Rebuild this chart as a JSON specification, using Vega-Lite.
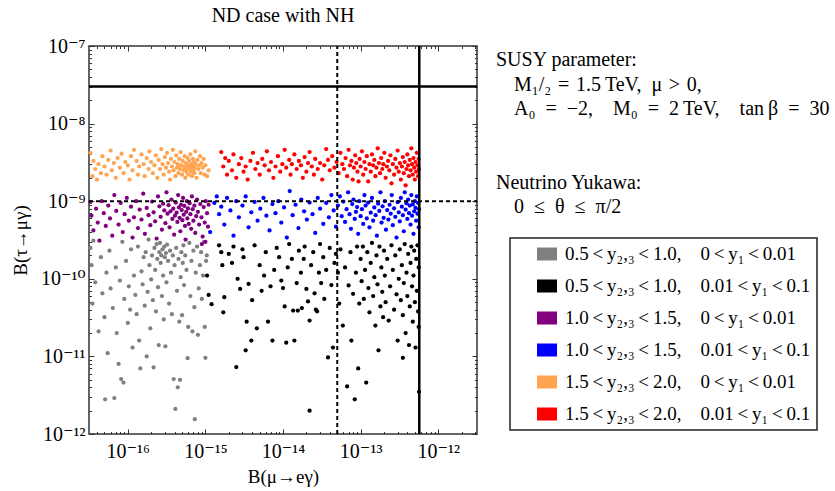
{
"$schema":"https://vega.github.io/schema/vega-lite/v6.json",
"padding":{"left":10,"top":5,"right":0,"bottom":0},
"background":"white",
"spacing":17,
"config":{
"font":"Liberation Serif",
"view":{"stroke":null},
"axis":{"labelFont":"Liberation Serif, DejaVu Serif","labelFontSize":20,"labelColor":"#000","titleFont":"Liberation Serif","titleFontSize":19,"titleFontWeight":"normal","titleColor":"#000","tickColor":"#333","tickWidth":1,"grid":false,"domain":false},
"title":{"font":"Liberation Serif","fontSize":20,"fontWeight":"normal","color":"#000"},
"legend":{"orient":"none","legendX":421,"legendY":192,"titlePadding":0,"symbolType":"M-1,-0.65H1V0.65H-1Z","symbolSize":400,"symbolStrokeWidth":0,"symbolOpacity":1,"labelFont":"Liberation Serif","labelFontSize":19,"labelColor":"#000","labelOffset":8,"labelLimit":0,"strokeColor":"#222","strokeWidth":1.5,"fillColor":"#fff","padding":6,"symbolOffset":21,"rowPadding":12}
},
"hconcat":[
{
"width":388,"height":388,
"view":{"stroke":"#333","strokeWidth":1.5},
"title":{"text":"ND case with NH","anchor":"middle","offset":10},
"resolve":{"axis":{"x":"independent","y":"independent"}},
"layer":[
{
"data":{"values":[
{"x":3.3e-17,"y":2.5e-10,"g":"a"},{"x":3.4e-17,"y":1.5e-10,"g":"a"},{"x":3.5e-17,"y":4.8e-11,"g":"a"},{"x":3.6e-17,"y":3.1e-10,"g":"a"},{"x":3.8e-17,"y":9.0e-11,"g":"a"},{"x":4.2e-17,"y":2.1e-11,"g":"a"},{"x":4.5e-17,"y":1.9e-10,"g":"a"},{"x":4.7e-17,"y":6.5e-11,"g":"a"},{"x":5.0e-17,"y":3.2e-11,"g":"a"},{"x":5.1e-17,"y":2.8e-12,"g":"a"},{"x":5.3e-17,"y":1.2e-10,"g":"a"},{"x":5.5e-17,"y":1.1e-11,"g":"a"},{"x":5.8e-17,"y":2.3e-10,"g":"a"},{"x":6.0e-17,"y":7.5e-11,"g":"a"},{"x":6.4e-17,"y":4.2e-11,"g":"a"},{"x":6.7e-17,"y":2.9e-12,"g":"a"},{"x":7.0e-17,"y":1.4e-10,"g":"a"},{"x":7.2e-17,"y":2.0e-11,"g":"a"},{"x":7.6e-17,"y":8.0e-12,"g":"a"},{"x":7.9e-17,"y":9.5e-11,"g":"a"},{"x":8.2e-17,"y":5.1e-12,"g":"a"},{"x":8.5e-17,"y":3.0e-10,"g":"a"},{"x":8.8e-17,"y":4.6e-12,"g":"a"},{"x":9.0e-17,"y":5.5e-11,"g":"a"},{"x":9.5e-17,"y":1.7e-10,"g":"a"},{"x":1.0e-16,"y":2.7e-11,"g":"a"},{"x":1.03e-16,"y":8.0e-11,"g":"a"},{"x":1.07e-16,"y":4.0e-11,"g":"a"},{"x":1.1e-16,"y":2.4e-10,"g":"a"},{"x":1.15e-16,"y":1.3e-11,"g":"a"},{"x":1.2e-16,"y":1.1e-10,"g":"a"},{"x":1.25e-16,"y":6.2e-11,"g":"a"},{"x":1.3e-16,"y":3.5e-11,"g":"a"},{"x":1.35e-16,"y":2.6e-10,"g":"a"},{"x":1.4e-16,"y":1.6e-11,"g":"a"},{"x":1.45e-16,"y":7.0e-12,"g":"a"},{"x":1.5e-16,"y":1.25e-10,"g":"a"},{"x":1.55e-16,"y":8.5e-11,"g":"a"},{"x":1.6e-16,"y":1.9e-10,"g":"a"},{"x":1.65e-16,"y":4.5e-11,"g":"a"},{"x":1.7e-16,"y":2.2e-10,"g":"a"},{"x":1.75e-16,"y":1.0e-11,"g":"a"},{"x":1.8e-16,"y":6.8e-11,"g":"a"},{"x":1.85e-16,"y":3.2e-10,"g":"a"},{"x":1.9e-16,"y":1.5e-10,"g":"a"},{"x":1.95e-16,"y":2.3e-11,"g":"a"},{"x":2.0e-16,"y":9.8e-11,"g":"a"},{"x":2.05e-16,"y":2.0e-10,"g":"a"},{"x":2.1e-16,"y":5.3e-11,"g":"a"},{"x":2.15e-16,"y":7.2e-12,"g":"a"},{"x":2.2e-16,"y":2.5e-10,"g":"a"},{"x":2.25e-16,"y":1.3e-10,"g":"a"},{"x":2.3e-16,"y":3.8e-11,"g":"a"},{"x":2.35e-16,"y":2.8e-10,"g":"a"},{"x":2.4e-16,"y":1.8e-10,"g":"a"},{"x":2.45e-16,"y":7.8e-11,"g":"a"},{"x":2.5e-16,"y":1.4e-11,"g":"a"},{"x":2.55e-16,"y":2.2e-10,"g":"a"},{"x":2.6e-16,"y":2.9e-10,"g":"a"},{"x":2.65e-16,"y":1.6e-10,"g":"a"},{"x":2.7e-16,"y":2.0e-10,"g":"a"},{"x":2.75e-16,"y":6.0e-11,"g":"a"},{"x":2.8e-16,"y":2.4e-10,"g":"a"},{"x":2.85e-16,"y":1.1e-10,"g":"a"},{"x":2.9e-16,"y":3.0e-11,"g":"a"},{"x":2.95e-16,"y":2.6e-10,"g":"a"},{"x":3.0e-16,"y":1.9e-10,"g":"a"},{"x":3.05e-16,"y":1.35e-11,"g":"a"},{"x":3.1e-16,"y":2.15e-10,"g":"a"},{"x":3.15e-16,"y":9.0e-11,"g":"a"},{"x":3.2e-16,"y":2.75e-10,"g":"a"},{"x":3.3e-16,"y":1.7e-10,"g":"a"},{"x":3.4e-16,"y":4.8e-11,"g":"a"},{"x":3.5e-16,"y":2.3e-10,"g":"a"},{"x":3.6e-16,"y":1.2e-10,"g":"a"},{"x":3.7e-16,"y":3.5e-11,"g":"a"},{"x":3.8e-16,"y":2.0e-10,"g":"a"},{"x":3.9e-16,"y":5.1e-12,"g":"a"},{"x":4.0e-16,"y":1.5e-10,"g":"a"},{"x":4.1e-16,"y":2.1e-12,"g":"a"},{"x":4.2e-16,"y":2.5e-10,"g":"a"},{"x":4.3e-16,"y":7.0e-11,"g":"a"},{"x":4.4e-16,"y":4.0e-12,"g":"a"},{"x":4.5e-16,"y":1.8e-10,"g":"a"},{"x":4.6e-16,"y":2.8e-11,"g":"a"},{"x":4.7e-16,"y":5.0e-12,"g":"a"},{"x":4.8e-16,"y":1.05e-10,"g":"a"},{"x":4.9e-16,"y":2.2e-10,"g":"a"},{"x":5.0e-16,"y":3.4e-11,"g":"a"},{"x":5.1e-16,"y":1.6e-10,"g":"a"},{"x":5.2e-16,"y":2.7e-10,"g":"a"},{"x":5.3e-16,"y":8.3e-11,"g":"a"},{"x":5.5e-16,"y":2.0e-10,"g":"a"},{"x":5.7e-16,"y":1.3e-10,"g":"a"},{"x":5.9e-16,"y":9.5e-12,"g":"a"},{"x":6.0e-16,"y":2.4e-11,"g":"a"},{"x":6.2e-16,"y":2.9e-10,"g":"a"},{"x":6.4e-16,"y":6.0e-11,"g":"a"},{"x":6.6e-16,"y":1.7e-10,"g":"a"},{"x":6.8e-16,"y":2.1e-11,"g":"a"},{"x":7.0e-16,"y":2.3e-10,"g":"a"},{"x":7.2e-16,"y":4.3e-11,"g":"a"},{"x":7.3e-16,"y":1.55e-12,"g":"a"},{"x":7.5e-16,"y":1.2e-10,"g":"a"},{"x":7.8e-16,"y":2.6e-10,"g":"a"},{"x":8.0e-16,"y":1.9e-11,"g":"a"},{"x":8.2e-16,"y":7.5e-11,"g":"a"},{"x":8.5e-16,"y":1.5e-10,"g":"a"},{"x":8.8e-16,"y":2.2e-10,"g":"a"},{"x":9.0e-16,"y":5.5e-11,"g":"a"},{"x":9.3e-16,"y":1.1e-10,"g":"a"},{"x":9.6e-16,"y":3.0e-10,"g":"a"},{"x":9.8e-16,"y":2.4e-11,"g":"a"},{"x":1.0e-15,"y":9.6e-12,"g":"a"},{"x":1.02e-15,"y":1.7e-10,"g":"a"},{"x":1.04e-15,"y":2.0e-10,"g":"a"},
{"x":1.05e-15,"y":1.1e-10,"g":"b"},{"x":1.1e-15,"y":6.2e-11,"g":"b"},{"x":1.2e-15,"y":4.7e-11,"g":"b"},{"x":1.5e-15,"y":2.7e-10,"g":"b"},{"x":1.6e-15,"y":2.2e-10,"g":"b"},{"x":1.65e-15,"y":1.5e-10,"g":"b"},{"x":1.7e-15,"y":3.7e-11,"g":"b"},{"x":1.75e-15,"y":5.8e-11,"g":"b"},{"x":2.0e-15,"y":2.1e-10,"g":"b"},{"x":2.2e-15,"y":1.6e-10,"g":"b"},{"x":2.3e-15,"y":2.6e-10,"g":"b"},{"x":2.5e-15,"y":7.3e-12,"g":"b"},{"x":2.6e-15,"y":1.0e-10,"g":"b"},{"x":2.8e-15,"y":7.4e-11,"g":"b"},{"x":3.0e-15,"y":2.4e-10,"g":"b"},{"x":3.1e-15,"y":1.9e-10,"g":"b"},{"x":3.3e-15,"y":1.2e-11,"g":"b"},{"x":3.4e-15,"y":2.8e-11,"g":"b"},{"x":3.6e-15,"y":8.6e-11,"g":"b"},{"x":3.9e-15,"y":1.6e-11,"g":"b"},{"x":4.0e-15,"y":5.3e-11,"g":"b"},{"x":4.3e-15,"y":2.7e-10,"g":"b"},{"x":4.6e-15,"y":2.3e-11,"g":"b"},{"x":5.0e-15,"y":1.5e-10,"g":"b"},{"x":5.3e-15,"y":7.0e-11,"g":"b"},{"x":5.7e-15,"y":1.1e-10,"g":"b"},{"x":6.0e-15,"y":2.2e-10,"g":"b"},{"x":6.4e-15,"y":2.8e-11,"g":"b"},{"x":6.9e-15,"y":8.0e-11,"g":"b"},{"x":7.3e-15,"y":1.6e-11,"g":"b"},{"x":7.7e-15,"y":1.3e-10,"g":"b"},{"x":8.3e-15,"y":2.5e-10,"g":"b"},{"x":8.9e-15,"y":1.9e-10,"g":"b"},{"x":9.5e-15,"y":9.5e-11,"g":"b"},{"x":1.0e-14,"y":7.6e-11,"g":"b"},{"x":1.05e-14,"y":4.4e-11,"g":"b"},{"x":1.1e-14,"y":1.5e-11,"g":"b"},{"x":1.15e-14,"y":1.4e-10,"g":"b"},{"x":1.2e-14,"y":2.8e-10,"g":"b"},{"x":1.3e-14,"y":1.8e-10,"g":"b"},{"x":1.35e-14,"y":3.9e-11,"g":"b"},{"x":1.4e-14,"y":1.6e-11,"g":"b"},{"x":1.5e-14,"y":8.8e-11,"g":"b"},{"x":1.55e-14,"y":3.9e-11,"g":"b"},{"x":1.6e-14,"y":2.3e-10,"g":"b"},{"x":1.7e-14,"y":1.2e-10,"g":"b"},{"x":1.75e-14,"y":4.2e-11,"g":"b"},{"x":1.85e-14,"y":1.8e-10,"g":"b"},{"x":1.9e-14,"y":2.6e-10,"g":"b"},{"x":2.0e-14,"y":7.4e-11,"g":"b"},{"x":2.1e-14,"y":5.1e-11,"g":"b"},{"x":2.2e-14,"y":2.9e-11,"g":"b"},{"x":2.2e-14,"y":2.0e-12,"g":"b"},{"x":2.3e-14,"y":1.5e-10,"g":"b"},{"x":2.45e-14,"y":2.2e-10,"g":"b"},{"x":2.55e-14,"y":6.5e-11,"g":"b"},{"x":2.65e-14,"y":4.0e-11,"g":"b"},{"x":2.75e-14,"y":3.8e-11,"g":"b"},{"x":2.9e-14,"y":1.2e-10,"g":"b"},{"x":3.0e-14,"y":2.8e-10,"g":"b"},{"x":3.1e-14,"y":8.8e-11,"g":"b"},{"x":3.3e-14,"y":1.9e-10,"g":"b"},{"x":3.4e-14,"y":5.5e-11,"g":"b"},{"x":3.6e-14,"y":1.3e-10,"g":"b"},{"x":3.8e-14,"y":9.7e-12,"g":"b"},{"x":4.0e-14,"y":2.5e-10,"g":"b"},{"x":4.2e-14,"y":8.3e-11,"g":"b"},{"x":4.4e-14,"y":1.3e-11,"g":"b"},{"x":4.6e-14,"y":1.6e-10,"g":"b"},{"x":4.8e-14,"y":2.1e-10,"g":"b"},{"x":5.1e-14,"y":1.2e-10,"g":"b"},{"x":5.3e-14,"y":4.8e-11,"g":"b"},{"x":5.5e-14,"y":2.4e-10,"g":"b"},{"x":5.9e-14,"y":2.5e-11,"g":"b"},{"x":6.3e-14,"y":1.4e-10,"g":"b"},{"x":6.7e-14,"y":4.1e-12,"g":"b"},{"x":7.0e-14,"y":8.2e-11,"g":"b"},{"x":7.4e-14,"y":2.2e-10,"g":"b"},{"x":7.6e-14,"y":1.6e-11,"g":"b"},{"x":8.0e-14,"y":6.4e-11,"g":"b"},{"x":8.4e-14,"y":2.8e-12,"g":"b"},{"x":8.7e-14,"y":1.2e-10,"g":"b"},{"x":9.0e-14,"y":2.6e-10,"g":"b"},{"x":9.3e-14,"y":7.0e-12,"g":"b"},{"x":9.6e-14,"y":4.8e-11,"g":"b"},{"x":1.0e-13,"y":1.8e-10,"g":"b"},{"x":1.03e-13,"y":9.3e-11,"g":"b"},{"x":1.07e-13,"y":2.6e-10,"g":"b"},{"x":1.1e-13,"y":5.5e-11,"g":"b"},{"x":1.14e-13,"y":1.3e-10,"g":"b"},{"x":1.18e-13,"y":4.6e-12,"g":"b"},{"x":1.22e-13,"y":2.2e-10,"g":"b"},{"x":1.26e-13,"y":7.6e-11,"g":"b"},{"x":1.3e-13,"y":3.7e-11,"g":"b"},{"x":1.35e-13,"y":1.6e-10,"g":"b"},{"x":1.4e-13,"y":2.9e-10,"g":"b"},{"x":1.45e-13,"y":6.0e-11,"g":"b"},{"x":1.5e-13,"y":1.05e-10,"g":"b"},{"x":1.55e-13,"y":2.5e-11,"g":"b"},{"x":1.6e-13,"y":2.0e-10,"g":"b"},{"x":1.65e-13,"y":8.5e-11,"g":"b"},{"x":1.7e-13,"y":1.2e-11,"g":"b"},{"x":1.75e-13,"y":2.6e-10,"g":"b"},{"x":1.8e-13,"y":4.4e-11,"g":"b"},{"x":1.85e-13,"y":1.4e-10,"g":"b"},{"x":1.9e-13,"y":6.8e-11,"g":"b"},{"x":1.95e-13,"y":3.2e-11,"g":"b"},{"x":2.0e-13,"y":2.3e-10,"g":"b"},{"x":2.05e-13,"y":1.1e-10,"g":"b"},{"x":2.1e-13,"y":5.0e-11,"g":"b"},{"x":2.2e-13,"y":1.8e-10,"g":"b"},{"x":2.3e-13,"y":2.9e-11,"g":"b"},{"x":2.4e-13,"y":8.0e-11,"g":"b"},{"x":2.5e-13,"y":2.7e-10,"g":"b"},{"x":2.6e-13,"y":1.3e-10,"g":"b"},{"x":2.7e-13,"y":4.0e-11,"g":"b"},{"x":2.8e-13,"y":2.0e-10,"g":"b"},{"x":2.9e-13,"y":6.3e-11,"g":"b"},{"x":3.0e-13,"y":1.6e-11,"g":"b"},{"x":3.1e-13,"y":1.0e-10,"g":"b"},{"x":3.2e-13,"y":2.4e-10,"g":"b"},{"x":3.3e-13,"y":5.3e-11,"g":"b"},{"x":3.4e-13,"y":1.5e-10,"g":"b"},{"x":3.5e-13,"y":3.4e-11,"g":"b"},{"x":3.5e-13,"y":9.6e-12,"g":"b"},{"x":3.6e-13,"y":8.8e-11,"g":"b"},{"x":3.7e-13,"y":2.8e-10,"g":"b"},{"x":3.8e-13,"y":2.0e-11,"g":"b"},{"x":3.9e-13,"y":1.2e-10,"g":"b"},{"x":4.0e-13,"y":6.0e-11,"g":"b"},{"x":4.1e-13,"y":2.1e-10,"g":"b"},{"x":4.2e-13,"y":1.4e-11,"g":"b"},{"x":4.3e-13,"y":4.4e-11,"g":"b"},{"x":4.4e-13,"y":1.6e-10,"g":"b"},{"x":4.5e-13,"y":2.6e-10,"g":"b"},{"x":4.6e-13,"y":8.0e-11,"g":"b"},{"x":4.7e-13,"y":2.8e-11,"g":"b"},{"x":4.8e-13,"y":1.1e-10,"g":"b"},{"x":4.9e-13,"y":2.3e-10,"g":"b"},{"x":5.0e-13,"y":5.0e-11,"g":"b"},{"x":5.1e-13,"y":1.3e-11,"g":"b"},{"x":5.2e-13,"y":1.8e-10,"g":"b"},{"x":5.3e-13,"y":7.0e-11,"g":"b"},{"x":5.4e-13,"y":2.7e-10,"g":"b"},{"x":5.5e-13,"y":3.8e-11,"g":"b"},{"x":5.6e-13,"y":1.4e-10,"g":"b"},{"x":5.65e-13,"y":3.5e-12,"g":"b"},{"x":5.6e-13,"y":2.4e-11,"g":"b"},
{"x":3.3e-17,"y":9.8e-10,"g":"c"},{"x":3.4e-17,"y":6.5e-10,"g":"c"},{"x":3.6e-17,"y":4.2e-10,"g":"c"},{"x":3.9e-17,"y":8.0e-10,"g":"c"},{"x":4.1e-17,"y":5.3e-10,"g":"c"},{"x":4.3e-17,"y":3.1e-10,"g":"c"},{"x":4.6e-17,"y":1.0e-9,"g":"c"},{"x":4.9e-17,"y":7.0e-10,"g":"c"},{"x":5.2e-17,"y":4.8e-10,"g":"c"},{"x":5.6e-17,"y":8.8e-10,"g":"c"},{"x":5.9e-17,"y":6.0e-10,"g":"c"},{"x":6.3e-17,"y":3.6e-10,"g":"c"},{"x":6.7e-17,"y":1.2e-9,"g":"c"},{"x":7.1e-17,"y":7.5e-10,"g":"c"},{"x":7.6e-17,"y":5.0e-10,"g":"c"},{"x":8.1e-17,"y":9.5e-10,"g":"c"},{"x":8.6e-17,"y":4.0e-10,"g":"c"},{"x":9.1e-17,"y":6.8e-10,"g":"c"},{"x":9.7e-17,"y":1.1e-9,"g":"c"},{"x":1.03e-16,"y":5.6e-10,"g":"c"},{"x":1.1e-16,"y":8.5e-10,"g":"c"},{"x":1.15e-16,"y":3.4e-10,"g":"c"},{"x":1.2e-16,"y":6.2e-10,"g":"c"},{"x":1.28e-16,"y":1.0e-9,"g":"c"},{"x":1.35e-16,"y":4.5e-10,"g":"c"},{"x":1.42e-16,"y":7.8e-10,"g":"c"},{"x":1.5e-16,"y":5.8e-10,"g":"c"},{"x":1.58e-16,"y":1.25e-9,"g":"c"},{"x":1.66e-16,"y":3.8e-10,"g":"c"},{"x":1.75e-16,"y":8.2e-10,"g":"c"},{"x":1.85e-16,"y":6.6e-10,"g":"c"},{"x":1.95e-16,"y":4.9e-10,"g":"c"},{"x":2.05e-16,"y":9.9e-10,"g":"c"},{"x":2.15e-16,"y":7.2e-10,"g":"c"},{"x":2.25e-16,"y":5.5e-10,"g":"c"},{"x":2.35e-16,"y":3.3e-10,"g":"c"},{"x":2.45e-16,"y":1.15e-9,"g":"c"},{"x":2.55e-16,"y":8.6e-10,"g":"c"},{"x":2.65e-16,"y":6.3e-10,"g":"c"},{"x":2.75e-16,"y":4.3e-10,"g":"c"},{"x":2.85e-16,"y":9.3e-10,"g":"c"},{"x":2.95e-16,"y":7.6e-10,"g":"c"},{"x":3.05e-16,"y":5.2e-10,"g":"c"},{"x":3.15e-16,"y":1.3e-9,"g":"c"},{"x":3.25e-16,"y":6.9e-10,"g":"c"},{"x":3.35e-16,"y":8.9e-10,"g":"c"},{"x":3.45e-16,"y":4.6e-10,"g":"c"},{"x":3.55e-16,"y":7.4e-10,"g":"c"},{"x":3.65e-16,"y":1.05e-9,"g":"c"},{"x":3.75e-16,"y":5.9e-10,"g":"c"},{"x":3.85e-16,"y":8.0e-10,"g":"c"},{"x":3.95e-16,"y":3.7e-10,"g":"c"},{"x":4.05e-16,"y":6.5e-10,"g":"c"},{"x":4.15e-16,"y":9.6e-10,"g":"c"},{"x":4.25e-16,"y":7.1e-10,"g":"c"},{"x":4.35e-16,"y":5.4e-10,"g":"c"},{"x":4.45e-16,"y":1.2e-9,"g":"c"},{"x":4.55e-16,"y":8.3e-10,"g":"c"},{"x":4.65e-16,"y":6.1e-10,"g":"c"},{"x":4.75e-16,"y":4.1e-10,"g":"c"},{"x":4.85e-16,"y":9.0e-10,"g":"c"},{"x":4.95e-16,"y":7.7e-10,"g":"c"},{"x":5.05e-16,"y":5.7e-10,"g":"c"},{"x":5.15e-16,"y":1.1e-9,"g":"c"},{"x":5.25e-16,"y":6.7e-10,"g":"c"},{"x":5.35e-16,"y":8.7e-10,"g":"c"},{"x":5.45e-16,"y":4.8e-10,"g":"c"},{"x":5.55e-16,"y":3.2e-10,"g":"c"},{"x":5.65e-16,"y":7.3e-10,"g":"c"},{"x":5.75e-16,"y":1.0e-9,"g":"c"},{"x":5.85e-16,"y":6.0e-10,"g":"c"},{"x":5.95e-16,"y":8.1e-10,"g":"c"},{"x":6.1e-16,"y":5.1e-10,"g":"c"},{"x":6.25e-16,"y":9.4e-10,"g":"c"},{"x":6.4e-16,"y":6.8e-10,"g":"c"},{"x":6.55e-16,"y":4.4e-10,"g":"c"},{"x":6.7e-16,"y":1.15e-9,"g":"c"},{"x":6.85e-16,"y":7.9e-10,"g":"c"},{"x":7.0e-16,"y":5.6e-10,"g":"c"},{"x":7.2e-16,"y":8.8e-10,"g":"c"},{"x":7.4e-16,"y":3.9e-10,"g":"c"},{"x":7.6e-16,"y":6.4e-10,"g":"c"},{"x":7.8e-16,"y":1.05e-9,"g":"c"},{"x":8.0e-16,"y":7.3e-10,"g":"c"},{"x":8.3e-16,"y":5.0e-10,"g":"c"},{"x":8.6e-16,"y":9.2e-10,"g":"c"},{"x":8.9e-16,"y":6.2e-10,"g":"c"},{"x":9.2e-16,"y":3.5e-10,"g":"c"},{"x":9.5e-16,"y":8.4e-10,"g":"c"},{"x":9.8e-16,"y":5.3e-10,"g":"c"},{"x":1.01e-15,"y":1.0e-9,"g":"c"},{"x":1.05e-15,"y":7.0e-10,"g":"c"},{"x":1.08e-15,"y":4.7e-10,"g":"c"},{"x":1.1e-15,"y":9.0e-10,"g":"c"},{"x":1.0e-15,"y":3.0e-10,"g":"c"},{"x":9.0e-16,"y":2.8e-10,"g":"c"},
{"x":1.15e-15,"y":4.0e-10,"g":"d"},{"x":1.3e-15,"y":9.5e-10,"g":"d"},{"x":1.4e-15,"y":1.15e-9,"g":"d"},{"x":1.5e-15,"y":6.8e-10,"g":"d"},{"x":1.6e-15,"y":8.5e-10,"g":"d"},{"x":1.75e-15,"y":5.0e-10,"g":"d"},{"x":1.9e-15,"y":1.1e-9,"g":"d"},{"x":2.1e-15,"y":7.6e-10,"g":"d"},{"x":2.3e-15,"y":3.6e-10,"g":"d"},{"x":2.5e-15,"y":1.0e-9,"g":"d"},{"x":2.7e-15,"y":6.2e-10,"g":"d"},{"x":3.0e-15,"y":8.8e-10,"g":"d"},{"x":3.3e-15,"y":1.15e-9,"g":"d"},{"x":3.6e-15,"y":4.6e-10,"g":"d"},{"x":3.9e-15,"y":7.2e-10,"g":"d"},{"x":4.3e-15,"y":9.8e-10,"g":"d"},{"x":4.7e-15,"y":5.6e-10,"g":"d"},{"x":5.1e-15,"y":8.0e-10,"g":"d"},{"x":5.6e-15,"y":1.1e-9,"g":"d"},{"x":6.1e-15,"y":6.5e-10,"g":"d"},{"x":6.7e-15,"y":4.2e-10,"g":"d"},{"x":7.3e-15,"y":9.2e-10,"g":"d"},{"x":8.0e-15,"y":7.0e-10,"g":"d"},{"x":8.7e-15,"y":1.0e-9,"g":"d"},{"x":9.5e-15,"y":5.3e-10,"g":"d"},{"x":1.03e-14,"y":8.3e-10,"g":"d"},{"x":1.12e-14,"y":3.4e-10,"g":"d"},{"x":1.22e-14,"y":1.35e-9,"g":"d"},{"x":1.33e-14,"y":6.6e-10,"g":"d"},{"x":1.45e-14,"y":9.0e-10,"g":"d"},{"x":1.58e-14,"y":4.5e-10,"g":"d"},{"x":1.72e-14,"y":1.05e-9,"g":"d"},{"x":1.87e-14,"y":7.4e-10,"g":"d"},{"x":2.03e-14,"y":5.8e-10,"g":"d"},{"x":2.2e-14,"y":9.6e-10,"g":"d"},{"x":2.4e-14,"y":6.8e-10,"g":"d"},{"x":2.6e-14,"y":3.9e-10,"g":"d"},{"x":2.8e-14,"y":1.1e-9,"g":"d"},{"x":3.0e-14,"y":8.0e-10,"g":"d"},{"x":3.3e-14,"y":5.1e-10,"g":"d"},{"x":3.6e-14,"y":9.5e-10,"g":"d"},{"x":3.9e-14,"y":6.2e-10,"g":"d"},{"x":4.2e-14,"y":1.2e-9,"g":"d"},{"x":4.5e-14,"y":7.6e-10,"g":"d"},{"x":4.8e-14,"y":4.7e-10,"g":"d"},{"x":5.1e-14,"y":8.8e-10,"g":"d"},{"x":5.4e-14,"y":1.15e-9,"g":"d"},{"x":5.7e-14,"y":6.4e-10,"g":"d"},{"x":6.0e-14,"y":9.9e-10,"g":"d"},{"x":6.3e-14,"y":5.4e-10,"g":"d"},{"x":6.6e-14,"y":7.9e-10,"g":"d"},{"x":6.9e-14,"y":1.3e-9,"g":"d"},{"x":7.2e-14,"y":6.8e-10,"g":"d"},{"x":7.5e-14,"y":4.4e-10,"g":"d"},{"x":7.8e-14,"y":9.2e-10,"g":"d"},{"x":8.1e-14,"y":1.05e-9,"g":"d"},{"x":8.4e-14,"y":5.9e-10,"g":"d"},{"x":8.7e-14,"y":7.3e-10,"g":"d"},{"x":9.0e-14,"y":8.4e-10,"g":"d"},{"x":9.3e-14,"y":3.8e-10,"g":"d"},{"x":9.6e-14,"y":1.0e-9,"g":"d"},{"x":1.0e-13,"y":6.4e-10,"g":"d"},{"x":1.04e-13,"y":7.9e-10,"g":"d"},{"x":1.08e-13,"y":5.1e-10,"g":"d"},{"x":1.12e-13,"y":1.2e-9,"g":"d"},{"x":1.16e-13,"y":8.8e-10,"g":"d"},{"x":1.2e-13,"y":6.0e-10,"g":"d"},{"x":1.25e-13,"y":9.6e-10,"g":"d"},{"x":1.3e-13,"y":4.6e-10,"g":"d"},{"x":1.35e-13,"y":7.1e-10,"g":"d"},{"x":1.4e-13,"y":1.1e-9,"g":"d"},{"x":1.45e-13,"y":5.6e-10,"g":"d"},{"x":1.5e-13,"y":8.3e-10,"g":"d"},{"x":1.56e-13,"y":6.6e-10,"g":"d"},{"x":1.62e-13,"y":3.6e-10,"g":"d"},{"x":1.68e-13,"y":9.3e-10,"g":"d"},{"x":1.74e-13,"y":7.5e-10,"g":"d"},{"x":1.8e-13,"y":1.3e-9,"g":"d"},{"x":1.86e-13,"y":5.3e-10,"g":"d"},{"x":1.92e-13,"y":8.6e-10,"g":"d"},{"x":1.98e-13,"y":6.1e-10,"g":"d"},{"x":2.05e-13,"y":1.0e-9,"g":"d"},{"x":2.12e-13,"y":4.3e-10,"g":"d"},{"x":2.2e-13,"y":7.7e-10,"g":"d"},{"x":2.28e-13,"y":5.8e-10,"g":"d"},{"x":2.36e-13,"y":9.0e-10,"g":"d"},{"x":2.44e-13,"y":6.9e-10,"g":"d"},{"x":2.52e-13,"y":1.2e-9,"g":"d"},{"x":2.6e-13,"y":4.9e-10,"g":"d"},{"x":2.7e-13,"y":8.1e-10,"g":"d"},{"x":2.8e-13,"y":6.3e-10,"g":"d"},{"x":2.9e-13,"y":3.4e-10,"g":"d"},{"x":3.0e-13,"y":9.7e-10,"g":"d"},{"x":3.1e-13,"y":7.2e-10,"g":"d"},{"x":3.2e-13,"y":5.5e-10,"g":"d"},{"x":3.3e-13,"y":1.1e-9,"g":"d"},{"x":3.4e-13,"y":8.5e-10,"g":"d"},{"x":3.5e-13,"y":6.6e-10,"g":"d"},{"x":3.6e-13,"y":4.1e-10,"g":"d"},{"x":3.7e-13,"y":1.3e-9,"g":"d"},{"x":3.8e-13,"y":7.8e-10,"g":"d"},{"x":3.9e-13,"y":9.4e-10,"g":"d"},{"x":4.0e-13,"y":5.9e-10,"g":"d"},{"x":4.1e-13,"y":1.05e-9,"g":"d"},{"x":4.2e-13,"y":7.0e-10,"g":"d"},{"x":4.3e-13,"y":8.8e-10,"g":"d"},{"x":4.4e-13,"y":5.0e-10,"g":"d"},{"x":4.5e-13,"y":1.2e-9,"g":"d"},{"x":4.6e-13,"y":6.5e-10,"g":"d"},{"x":4.7e-13,"y":9.1e-10,"g":"d"},{"x":4.8e-13,"y":3.8e-10,"g":"d"},{"x":4.9e-13,"y":7.4e-10,"g":"d"},{"x":5.0e-13,"y":1.0e-9,"g":"d"},{"x":5.1e-13,"y":8.2e-10,"g":"d"},{"x":5.2e-13,"y":5.6e-10,"g":"d"},{"x":5.3e-13,"y":1.15e-9,"g":"d"},{"x":5.4e-13,"y":6.9e-10,"g":"d"},{"x":5.5e-13,"y":9.5e-10,"g":"d"},{"x":5.6e-13,"y":4.6e-10,"g":"d"},{"x":5.65e-13,"y":7.9e-10,"g":"d"},
{"x":3.3e-17,"y":4.2e-9,"g":"e"},{"x":3.5e-17,"y":2.1e-9,"g":"e"},{"x":3.6e-17,"y":3.3e-9,"g":"e"},{"x":3.8e-17,"y":2.6e-9,"g":"e"},{"x":4.0e-17,"y":1.9e-9,"g":"e"},{"x":4.2e-17,"y":3.0e-9,"g":"e"},{"x":4.5e-17,"y":2.3e-9,"g":"e"},{"x":4.7e-17,"y":3.8e-9,"g":"e"},{"x":5.0e-17,"y":2.8e-9,"g":"e"},{"x":5.3e-17,"y":2.2e-9,"g":"e"},{"x":5.6e-17,"y":3.4e-9,"g":"e"},{"x":6.0e-17,"y":4.5e-9,"g":"e"},{"x":6.2e-17,"y":2.5e-9,"g":"e"},{"x":6.6e-17,"y":3.1e-9,"g":"e"},{"x":7.0e-17,"y":2.0e-9,"g":"e"},{"x":7.4e-17,"y":3.6e-9,"g":"e"},{"x":7.9e-17,"y":2.7e-9,"g":"e"},{"x":8.3e-17,"y":4.1e-9,"g":"e"},{"x":8.8e-17,"y":2.3e-9,"g":"e"},{"x":9.3e-17,"y":3.2e-9,"g":"e"},{"x":1.0e-16,"y":2.9e-9,"g":"e"},{"x":1.05e-16,"y":1.9e-9,"g":"e"},{"x":1.1e-16,"y":3.8e-9,"g":"e"},{"x":1.15e-16,"y":2.5e-9,"g":"e"},{"x":1.2e-16,"y":4.6e-9,"g":"e"},{"x":1.3e-16,"y":3.3e-9,"g":"e"},{"x":1.35e-16,"y":2.2e-9,"g":"e"},{"x":1.4e-16,"y":2.8e-9,"g":"e"},{"x":1.5e-16,"y":4.0e-9,"g":"e"},{"x":1.6e-16,"y":3.0e-9,"g":"e"},{"x":1.65e-16,"y":2.1e-9,"g":"e"},{"x":1.75e-16,"y":3.6e-9,"g":"e"},{"x":1.85e-16,"y":2.6e-9,"g":"e"},{"x":1.9e-16,"y":4.4e-9,"g":"e"},{"x":2.0e-16,"y":3.2e-9,"g":"e"},{"x":2.1e-16,"y":2.3e-9,"g":"e"},{"x":2.2e-16,"y":2.9e-9,"g":"e"},{"x":2.3e-16,"y":3.9e-9,"g":"e"},{"x":2.4e-16,"y":2.0e-9,"g":"e"},{"x":2.5e-16,"y":3.4e-9,"g":"e"},{"x":2.6e-16,"y":2.6e-9,"g":"e"},{"x":2.7e-16,"y":4.7e-9,"g":"e"},{"x":2.8e-16,"y":3.0e-9,"g":"e"},{"x":2.9e-16,"y":2.2e-9,"g":"e"},{"x":3.0e-16,"y":3.7e-9,"g":"e"},{"x":3.1e-16,"y":2.7e-9,"g":"e"},{"x":3.2e-16,"y":4.2e-9,"g":"e"},{"x":3.3e-16,"y":3.1e-9,"g":"e"},{"x":3.4e-16,"y":2.4e-9,"g":"e"},{"x":3.5e-16,"y":1.9e-9,"g":"e"},{"x":3.6e-16,"y":3.5e-9,"g":"e"},{"x":3.7e-16,"y":2.8e-9,"g":"e"},{"x":3.8e-16,"y":4.6e-9,"g":"e"},{"x":3.9e-16,"y":2.5e-9,"g":"e"},{"x":4.0e-16,"y":3.2e-9,"g":"e"},{"x":4.1e-16,"y":2.1e-9,"g":"e"},{"x":4.2e-16,"y":3.9e-9,"g":"e"},{"x":4.3e-16,"y":2.7e-9,"g":"e"},{"x":4.4e-16,"y":3.0e-9,"g":"e"},{"x":4.5e-16,"y":2.3e-9,"g":"e"},{"x":4.6e-16,"y":3.5e-9,"g":"e"},{"x":4.7e-16,"y":2.6e-9,"g":"e"},{"x":4.8e-16,"y":4.3e-9,"g":"e"},{"x":4.9e-16,"y":2.9e-9,"g":"e"},{"x":5.0e-16,"y":2.2e-9,"g":"e"},{"x":5.1e-16,"y":3.3e-9,"g":"e"},{"x":5.2e-16,"y":2.5e-9,"g":"e"},{"x":5.3e-16,"y":2.8e-9,"g":"e"},{"x":5.4e-16,"y":3.8e-9,"g":"e"},{"x":5.5e-16,"y":2.0e-9,"g":"e"},{"x":5.6e-16,"y":3.1e-9,"g":"e"},{"x":5.7e-16,"y":2.4e-9,"g":"e"},{"x":5.8e-16,"y":2.7e-9,"g":"e"},{"x":5.9e-16,"y":3.6e-9,"g":"e"},{"x":6.0e-16,"y":2.2e-9,"g":"e"},{"x":6.1e-16,"y":2.9e-9,"g":"e"},{"x":6.2e-16,"y":3.3e-9,"g":"e"},{"x":6.3e-16,"y":2.6e-9,"g":"e"},{"x":6.4e-16,"y":4.0e-9,"g":"e"},{"x":6.5e-16,"y":2.4e-9,"g":"e"},{"x":6.6e-16,"y":3.0e-9,"g":"e"},{"x":6.7e-16,"y":2.1e-9,"g":"e"},{"x":6.8e-16,"y":2.8e-9,"g":"e"},{"x":6.9e-16,"y":3.5e-9,"g":"e"},{"x":7.0e-16,"y":2.5e-9,"g":"e"},{"x":7.1e-16,"y":3.2e-9,"g":"e"},{"x":7.2e-16,"y":2.3e-9,"g":"e"},{"x":7.3e-16,"y":2.7e-9,"g":"e"},{"x":7.4e-16,"y":4.4e-9,"g":"e"},{"x":7.5e-16,"y":3.0e-9,"g":"e"},{"x":7.7e-16,"y":2.0e-9,"g":"e"},{"x":7.9e-16,"y":3.4e-9,"g":"e"},{"x":8.1e-16,"y":2.6e-9,"g":"e"},{"x":8.3e-16,"y":2.9e-9,"g":"e"},{"x":8.5e-16,"y":3.8e-9,"g":"e"},{"x":8.7e-16,"y":2.3e-9,"g":"e"},{"x":8.9e-16,"y":3.1e-9,"g":"e"},{"x":9.2e-16,"y":2.7e-9,"g":"e"},{"x":9.5e-16,"y":3.5e-9,"g":"e"},{"x":9.8e-16,"y":2.2e-9,"g":"e"},{"x":1.0e-15,"y":2.9e-9,"g":"e"},{"x":1.05e-15,"y":2.1e-9,"g":"e"},{"x":1.1e-15,"y":2.5e-9,"g":"e"},{"x":5.5e-16,"y":2.6e-9,"g":"e"},{"x":6.0e-16,"y":2.8e-9,"g":"e"},{"x":6.5e-16,"y":2.7e-9,"g":"e"},{"x":4.5e-16,"y":2.9e-9,"g":"e"},{"x":7.0e-16,"y":2.8e-9,"g":"e"},
{"x":1.6e-15,"y":4.3e-9,"g":"f"},{"x":1.7e-15,"y":2.8e-9,"g":"f"},{"x":1.8e-15,"y":3.6e-9,"g":"f"},{"x":1.9e-15,"y":2.2e-9,"g":"f"},{"x":2.0e-15,"y":3.3e-9,"g":"f"},{"x":2.2e-15,"y":2.5e-9,"g":"f"},{"x":2.3e-15,"y":4.0e-9,"g":"f"},{"x":2.5e-15,"y":2.0e-9,"g":"f"},{"x":2.7e-15,"y":3.0e-9,"g":"f"},{"x":2.9e-15,"y":3.6e-9,"g":"f"},{"x":3.1e-15,"y":2.4e-9,"g":"f"},{"x":3.3e-15,"y":2.8e-9,"g":"f"},{"x":3.5e-15,"y":1.9e-9,"g":"f"},{"x":3.8e-15,"y":3.3e-9,"g":"f"},{"x":4.1e-15,"y":4.2e-9,"g":"f"},{"x":4.4e-15,"y":2.6e-9,"g":"f"},{"x":4.7e-15,"y":3.1e-9,"g":"f"},{"x":5.0e-15,"y":2.2e-9,"g":"f"},{"x":5.4e-15,"y":3.5e-9,"g":"f"},{"x":5.8e-15,"y":2.9e-9,"g":"f"},{"x":6.2e-15,"y":4.4e-9,"g":"f"},{"x":6.6e-15,"y":2.5e-9,"g":"f"},{"x":7.0e-15,"y":3.2e-9,"g":"f"},{"x":7.5e-15,"y":2.0e-9,"g":"f"},{"x":8.0e-15,"y":2.8e-9,"g":"f"},{"x":8.6e-15,"y":3.8e-9,"g":"f"},{"x":9.2e-15,"y":2.4e-9,"g":"f"},{"x":9.8e-15,"y":3.0e-9,"g":"f"},{"x":1.05e-14,"y":4.6e-9,"g":"f"},{"x":1.1e-14,"y":2.7e-9,"g":"f"},{"x":1.2e-14,"y":3.4e-9,"g":"f"},{"x":1.25e-14,"y":2.2e-9,"g":"f"},{"x":1.3e-14,"y":3.0e-9,"g":"f"},{"x":1.4e-14,"y":4.0e-9,"g":"f"},{"x":1.5e-14,"y":2.6e-9,"g":"f"},{"x":1.6e-14,"y":3.3e-9,"g":"f"},{"x":1.7e-14,"y":2.9e-9,"g":"f"},{"x":1.8e-14,"y":2.0e-9,"g":"f"},{"x":1.9e-14,"y":3.7e-9,"g":"f"},{"x":2.0e-14,"y":2.4e-9,"g":"f"},{"x":2.1e-14,"y":3.1e-9,"g":"f"},{"x":2.2e-14,"y":4.3e-9,"g":"f"},{"x":2.35e-14,"y":2.8e-9,"g":"f"},{"x":2.5e-14,"y":2.2e-9,"g":"f"},{"x":2.6e-14,"y":3.5e-9,"g":"f"},{"x":2.8e-14,"y":2.6e-9,"g":"f"},{"x":3.0e-14,"y":3.1e-9,"g":"f"},{"x":3.2e-14,"y":1.9e-9,"g":"f"},{"x":3.4e-14,"y":2.9e-9,"g":"f"},{"x":3.6e-14,"y":4.7e-9,"g":"f"},{"x":3.8e-14,"y":3.4e-9,"g":"f"},{"x":4.0e-14,"y":2.5e-9,"g":"f"},{"x":4.3e-14,"y":3.8e-9,"g":"f"},{"x":4.6e-14,"y":2.7e-9,"g":"f"},{"x":4.9e-14,"y":3.2e-9,"g":"f"},{"x":5.2e-14,"y":2.3e-9,"g":"f"},{"x":5.5e-14,"y":4.2e-9,"g":"f"},{"x":5.8e-14,"y":3.0e-9,"g":"f"},{"x":6.1e-14,"y":2.6e-9,"g":"f"},{"x":6.4e-14,"y":3.6e-9,"g":"f"},{"x":6.7e-14,"y":2.1e-9,"g":"f"},{"x":7.0e-14,"y":4.6e-9,"g":"f"},{"x":7.3e-14,"y":2.9e-9,"g":"f"},{"x":7.6e-14,"y":3.3e-9,"g":"f"},{"x":7.9e-14,"y":1.9e-9,"g":"f"},{"x":8.2e-14,"y":2.7e-9,"g":"f"},{"x":8.5e-14,"y":3.9e-9,"g":"f"},{"x":8.8e-14,"y":3.1e-9,"g":"f"},{"x":9.1e-14,"y":2.4e-9,"g":"f"},{"x":9.4e-14,"y":1.8e-9,"g":"f"},{"x":9.7e-14,"y":3.5e-9,"g":"f"},{"x":1.0e-13,"y":2.8e-9,"g":"f"},{"x":1.04e-13,"y":4.4e-9,"g":"f"},{"x":1.08e-13,"y":2.2e-9,"g":"f"},{"x":1.12e-13,"y":3.2e-9,"g":"f"},{"x":1.16e-13,"y":2.6e-9,"g":"f"},{"x":1.2e-13,"y":3.8e-9,"g":"f"},{"x":1.25e-13,"y":1.8e-9,"g":"f"},{"x":1.3e-13,"y":3.0e-9,"g":"f"},{"x":1.35e-13,"y":2.4e-9,"g":"f"},{"x":1.4e-13,"y":4.0e-9,"g":"f"},{"x":1.45e-13,"y":2.9e-9,"g":"f"},{"x":1.5e-13,"y":3.4e-9,"g":"f"},{"x":1.55e-13,"y":2.1e-9,"g":"f"},{"x":1.6e-13,"y":2.7e-9,"g":"f"},{"x":1.66e-13,"y":4.8e-9,"g":"f"},{"x":1.72e-13,"y":3.1e-9,"g":"f"},{"x":1.78e-13,"y":2.3e-9,"g":"f"},{"x":1.84e-13,"y":3.6e-9,"g":"f"},{"x":1.9e-13,"y":2.6e-9,"g":"f"},{"x":1.96e-13,"y":3.0e-9,"g":"f"},{"x":2.02e-13,"y":4.2e-9,"g":"f"},{"x":2.1e-13,"y":2.0e-9,"g":"f"},{"x":2.18e-13,"y":2.8e-9,"g":"f"},{"x":2.26e-13,"y":3.3e-9,"g":"f"},{"x":2.34e-13,"y":2.5e-9,"g":"f"},{"x":2.42e-13,"y":3.9e-9,"g":"f"},{"x":2.5e-13,"y":1.7e-9,"g":"f"},{"x":2.6e-13,"y":3.0e-9,"g":"f"},{"x":2.7e-13,"y":2.2e-9,"g":"f"},{"x":2.8e-13,"y":3.5e-9,"g":"f"},{"x":2.9e-13,"y":2.7e-9,"g":"f"},{"x":3.0e-13,"y":4.5e-9,"g":"f"},{"x":3.1e-13,"y":2.4e-9,"g":"f"},{"x":3.2e-13,"y":3.1e-9,"g":"f"},{"x":3.3e-13,"y":1.9e-9,"g":"f"},{"x":3.4e-13,"y":2.8e-9,"g":"f"},{"x":3.5e-13,"y":3.7e-9,"g":"f"},{"x":3.6e-13,"y":2.3e-9,"g":"f"},{"x":3.7e-13,"y":3.2e-9,"g":"f"},{"x":3.8e-13,"y":1.6e-9,"g":"f"},{"x":3.9e-13,"y":2.6e-9,"g":"f"},{"x":4.0e-13,"y":4.0e-9,"g":"f"},{"x":4.1e-13,"y":2.9e-9,"g":"f"},{"x":4.2e-13,"y":2.1e-9,"g":"f"},{"x":4.3e-13,"y":3.4e-9,"g":"f"},{"x":4.4e-13,"y":2.5e-9,"g":"f"},{"x":4.5e-13,"y":4.8e-9,"g":"f"},{"x":4.6e-13,"y":3.0e-9,"g":"f"},{"x":4.7e-13,"y":2.2e-9,"g":"f"},{"x":4.8e-13,"y":3.6e-9,"g":"f"},{"x":4.9e-13,"y":2.7e-9,"g":"f"},{"x":5.0e-13,"y":1.9e-9,"g":"f"},{"x":5.1e-13,"y":3.2e-9,"g":"f"},{"x":5.2e-13,"y":2.4e-9,"g":"f"},{"x":5.3e-13,"y":4.2e-9,"g":"f"},{"x":5.4e-13,"y":2.9e-9,"g":"f"},{"x":5.5e-13,"y":2.1e-9,"g":"f"},{"x":5.6e-13,"y":3.5e-9,"g":"f"},{"x":5.65e-13,"y":2.6e-9,"g":"f"}
]},
"mark":{"type":"circle","size":18,"opacity":1},
"encoding":{
"x":{"field":"x","type":"quantitative","scale":{"type":"log","domain":[3.16e-17,3.16e-12],"nice":false},"axis":{"orient":"bottom","values":[1e-16,1e-15,1e-14,1e-13,1e-12],"tickSize":-5,"labelPadding":12,"labelExpr":"'10' + ['⁰','⁻¹','⁻²','⁻³','⁻⁴','⁻⁵','⁻⁶','⁻⁷','⁻⁸','⁻⁹','⁻¹⁰','⁻¹¹','⁻¹²','⁻¹³','⁻¹⁴','⁻¹⁵','⁻¹⁶','⁻¹⁷'][round(-log(datum.value)/LN10)]","title":"B(μ→eγ)","titlePadding":6}},
"y":{"field":"y","type":"quantitative","scale":{"type":"log","domain":[1e-12,1e-7],"nice":false},"axis":{"orient":"left","values":[1e-12,1e-11,1e-10,1e-9,1e-8,1e-7],"tickSize":-5,"labelPadding":9,"labelExpr":"'10' + ['⁰','⁻¹','⁻²','⁻³','⁻⁴','⁻⁵','⁻⁶','⁻⁷','⁻⁸','⁻⁹','⁻¹⁰','⁻¹¹','⁻¹²','⁻¹³','⁻¹⁴','⁻¹⁵','⁻¹⁶','⁻¹⁷'][round(-log(datum.value)/LN10)]","title":"B(τ→μγ)","titlePadding":10}},
"color":{"field":"g","type":"nominal","scale":{"domain":["a","b","c","d","e","f"],"range":["#808080","#000000","#800080","#0000ff","#ffa552","#ff0000"]},"legend":{"title":null,"labelExpr":"datum.value=='a'?'0.5\u2009<\u2009y₂,₃\u2009<\u20091.0,\u20030\u2009<\u2009y₁\u2009<\u20090.01':datum.value=='b'?'0.5\u2009<\u2009y₂,₃\u2009<\u20091.0,\u20030.01\u2009<\u2009y₁\u2009<\u20090.1':datum.value=='c'?'1.0\u2009<\u2009y₂,₃\u2009<\u20091.5,\u20030\u2009<\u2009y₁\u2009<\u20090.01':datum.value=='d'?'1.0\u2009<\u2009y₂,₃\u2009<\u20091.5,\u20030.01\u2009<\u2009y₁\u2009<\u20090.1':datum.value=='e'?'1.5\u2009<\u2009y₂,₃\u2009<\u20092.0,\u20030\u2009<\u2009y₁\u2009<\u20090.01':'1.5\u2009<\u2009y₂,₃\u2009<\u20092.0,\u20030.01\u2009<\u2009y₁\u2009<\u20090.1'"}}
}
},
{
"data":{"values":[{}]},
"mark":{"type":"rule","color":"#000","strokeWidth":2.5},
"encoding":{
"x":{"datum":5.7e-13,"type":"quantitative","scale":{"type":"log","domain":[3.16e-17,3.16e-12],"nice":false},"axis":{"orient":"bottom","values":[4e-17,5e-17,6e-17,7e-17,8e-17,9e-17,2e-16,3e-16,4e-16,5e-16,6e-16,7e-16,8e-16,9e-16,2e-15,3e-15,4e-15,5e-15,6e-15,7e-15,8e-15,9e-15,2e-14,3e-14,4e-14,5e-14,6e-14,7e-14,8e-14,9e-14,2e-13,3e-13,4e-13,5e-13,6e-13,7e-13,8e-13,9e-13,2e-12,3e-12],"tickSize":-2.5,"labels":false,"title":null}},
"y":{"datum":1e-12,"type":"quantitative","scale":{"type":"log","domain":[1e-12,1e-7],"nice":false},"axis":{"orient":"left","values":[2e-12,3e-12,4e-12,5e-12,6e-12,7e-12,8e-12,9e-12,2e-11,3e-11,4e-11,5e-11,6e-11,7e-11,8e-11,9e-11,2e-10,3e-10,4e-10,5e-10,6e-10,7e-10,8e-10,9e-10,2e-9,3e-9,4e-9,5e-9,6e-9,7e-9,8e-9,9e-9,2e-8,3e-8,4e-8,5e-8,6e-8,7e-8,8e-8,9e-8],"tickSize":-2.5,"labels":false,"title":null}},
"y2":{"datum":1e-7}
}
},
{
"data":{"values":[{}]},
"mark":{"type":"rule","color":"#000","strokeWidth":2.5},
"encoding":{
"y":{"datum":3e-8,"type":"quantitative","scale":{"type":"log","domain":[1e-12,1e-7],"nice":false},"axis":{"orient":"right","values":[1e-12,1e-11,1e-10,1e-9,1e-8,1e-7],"tickSize":-5,"labels":false,"title":null}},
"x":{"datum":3.16e-17,"type":"quantitative","scale":{"type":"log","domain":[3.16e-17,3.16e-12],"nice":false},"axis":{"orient":"top","values":[1e-16,1e-15,1e-14,1e-13,1e-12],"tickSize":-5,"labels":false,"title":null}},
"x2":{"datum":3.16e-12}
}
},
{
"data":{"values":[{}]},
"mark":{"type":"rule","color":"#000","strokeWidth":2,"strokeDash":[4,3]},
"encoding":{
"x":{"datum":5e-14,"type":"quantitative","scale":{"type":"log","domain":[3.16e-17,3.16e-12],"nice":false},"axis":{"orient":"top","values":[4e-17,5e-17,6e-17,7e-17,8e-17,9e-17,2e-16,3e-16,4e-16,5e-16,6e-16,7e-16,8e-16,9e-16,2e-15,3e-15,4e-15,5e-15,6e-15,7e-15,8e-15,9e-15,2e-14,3e-14,4e-14,5e-14,6e-14,7e-14,8e-14,9e-14,2e-13,3e-13,4e-13,5e-13,6e-13,7e-13,8e-13,9e-13,2e-12,3e-12],"tickSize":-2.5,"labels":false,"title":null}},
"y":{"datum":1e-12,"type":"quantitative","scale":{"type":"log","domain":[1e-12,1e-7],"nice":false},"axis":{"orient":"right","values":[2e-12,3e-12,4e-12,5e-12,6e-12,7e-12,8e-12,9e-12,2e-11,3e-11,4e-11,5e-11,6e-11,7e-11,8e-11,9e-11,2e-10,3e-10,4e-10,5e-10,6e-10,7e-10,8e-10,9e-10,2e-9,3e-9,4e-9,5e-9,6e-9,7e-9,8e-9,9e-9,2e-8,3e-8,4e-8,5e-8,6e-8,7e-8,8e-8,9e-8],"tickSize":-2.5,"labels":false,"title":null}},
"y2":{"datum":1e-7}
}
},
{
"data":{"values":[{}]},
"mark":{"type":"rule","color":"#000","strokeWidth":2,"strokeDash":[4,3]},
"encoding":{
"y":{"datum":1e-9,"type":"quantitative","scale":{"type":"log","domain":[1e-12,1e-7],"nice":false},"axis":null},
"x":{"datum":3.16e-17,"type":"quantitative","scale":{"type":"log","domain":[3.16e-17,3.16e-12],"nice":false},"axis":null},
"x2":{"datum":3.16e-12}
}
}
]
},
{
"width":330,"height":388,
"view":{"stroke":null},
"data":{"values":[
{"t":"SUSY parameter:","k":"h","line":0},
{"t":"M₁/₂\u2004=\u20041.5\u2009TeV,\u2002μ\u2004>\u20040,","k":"d","line":1},
{"t":"A₀\u2002=\u2002−2,\u2003M₀\u2002=\u20022\u2009TeV,\u2003tan\u2009β\u2002=\u200230","k":"d","line":2},
{"t":"Neutrino Yukawa:","k":"h","line":5},
{"t":"0\u2002≤\u2002θ\u2002≤\u2002π/2","k":"d","line":6}
]},
"mark":{"type":"text","align":"left","baseline":"middle","font":"Liberation Serif","fontSize":20,"color":"#000"},
"encoding":{
"x":{"field":"k","type":"nominal","scale":{"type":"point","domain":["h","d"],"range":[0,18],"padding":0},"axis":null},
"y":{"field":"line","type":"ordinal","scale":{"type":"point","domain":[0,1,2,3,4,5,6],"range":[14,161],"padding":0},"axis":null},
"text":{"field":"t"}
}
}
]
}
